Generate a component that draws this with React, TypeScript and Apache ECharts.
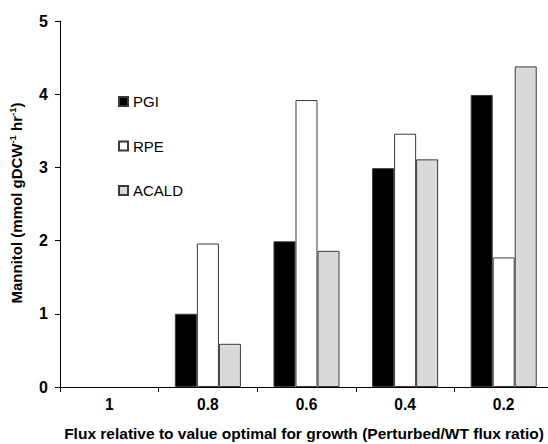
import React, { useEffect, useRef } from "react";
import * as echarts from "echarts";

const categories = ["1", "0.8", "0.6", "0.4", "0.2"];
const pgiValues = [0, 1.0, 1.99, 2.99, 3.99];
const rpeValues = [0, 1.96, 3.92, 3.46, 1.77];
const acaldValues = [0, 0.59, 1.86, 3.11, 4.38];
const yTicks = [0, 1, 2, 3, 4, 5];

const FONT = "'Liberation Sans', Arial, sans-serif";

export default function App() {
  const ref = useRef<HTMLDivElement>(null);
  useEffect(() => {
    if (!ref.current) return;
    const chart = echarts.init(ref.current, null, { renderer: "svg" });
    const border = { borderColor: "#3a3a3a", borderWidth: 1 };
    const toData = (arr: number[]) =>
      arr.map((v) => (v === 0 ? { value: v, itemStyle: { borderWidth: 0 } } : v));
    chart.setOption({
      animation: false,
      backgroundColor: "#ffffff",
      textStyle: { fontFamily: FONT },
      grid: {
        left: 60,
        top: 21,
        right: -5,
        bottom: 57,
        containLabel: false,
        outerBoundsMode: "none",
      },
      legend: {
        orient: "vertical",
        left: 118,
        top: 94,
        padding: 0,
        icon: "rect",
        itemWidth: 9,
        itemHeight: 9,
        itemGap: 29.5,
        textStyle: { fontSize: 15, color: "#000", fontFamily: FONT },
        data: ["PGI", "RPE", "ACALD"],
      },
      xAxis: {
        type: "category",
        data: categories,
        axisLine: { lineStyle: { color: "#000", width: 1 } },
        axisTick: { show: true, length: 5, lineStyle: { color: "#000" } },
        axisLabel: { fontSize: 15.6, fontWeight: "bold", color: "#000", margin: 9, fontFamily: FONT },
      },
      yAxis: {
        type: "value",
        min: yTicks[0],
        max: yTicks[yTicks.length - 1],
        interval: 1,
        splitLine: { show: false },
        axisLine: { show: true, lineStyle: { color: "#000", width: 1 } },
        axisTick: { show: true, length: 5, lineStyle: { color: "#000" } },
        axisLabel: { fontSize: 16, fontWeight: "bold", color: "#000", margin: 12, fontFamily: FONT },
      },
      graphic: [
        {
          type: "text",
          x: 304,
          y: 433,
          style: {
            text: "Flux relative to value optimal for growth (Perturbed/WT flux ratio)",
            align: "center",
            verticalAlign: "middle",
            fontSize: 15.5,
            fontWeight: "bold",
            fontFamily: FONT,
            fill: "#000",
          },
        },
        {
          type: "text",
          x: 16,
          y: 203,
          rotation: Math.PI / 2,
          style: {
            text: "{m|Mannitol (mmol gDCW}{s|-1}{m| hr}{s|-1}{m|)}",
            align: "center",
            verticalAlign: "middle",
            fill: "#000",
            rich: {
              m: { fontSize: 15, fontWeight: "bold", fontFamily: FONT, lineHeight: 18, fill: "#000" },
              s: { fontSize: 9.5, fontWeight: "bold", fontFamily: FONT, lineHeight: 18, verticalAlign: "top", fill: "#000" },
            },
          },
        },
      ],
      series: [
        {
          name: "PGI",
          type: "bar",
          data: toData(pgiValues),
          barGap: "0%",
          barCategoryGap: "33%",
          itemStyle: { color: "#000000", ...border },
        },
        {
          name: "RPE",
          type: "bar",
          data: toData(rpeValues),
          barGap: "0%",
          barCategoryGap: "33%",
          itemStyle: { color: "#ffffff", ...border },
        },
        {
          name: "ACALD",
          type: "bar",
          data: toData(acaldValues),
          barGap: "0%",
          barCategoryGap: "33%",
          itemStyle: { color: "#d9d9d9", ...border },
        },
      ],
    });
    return () => chart.dispose();
  }, []);
  return (
    <div
      ref={ref}
      style={{ position: "fixed", left: 0, top: 0, width: 548, height: 444, background: "#fff" }}
    />
  );
}
